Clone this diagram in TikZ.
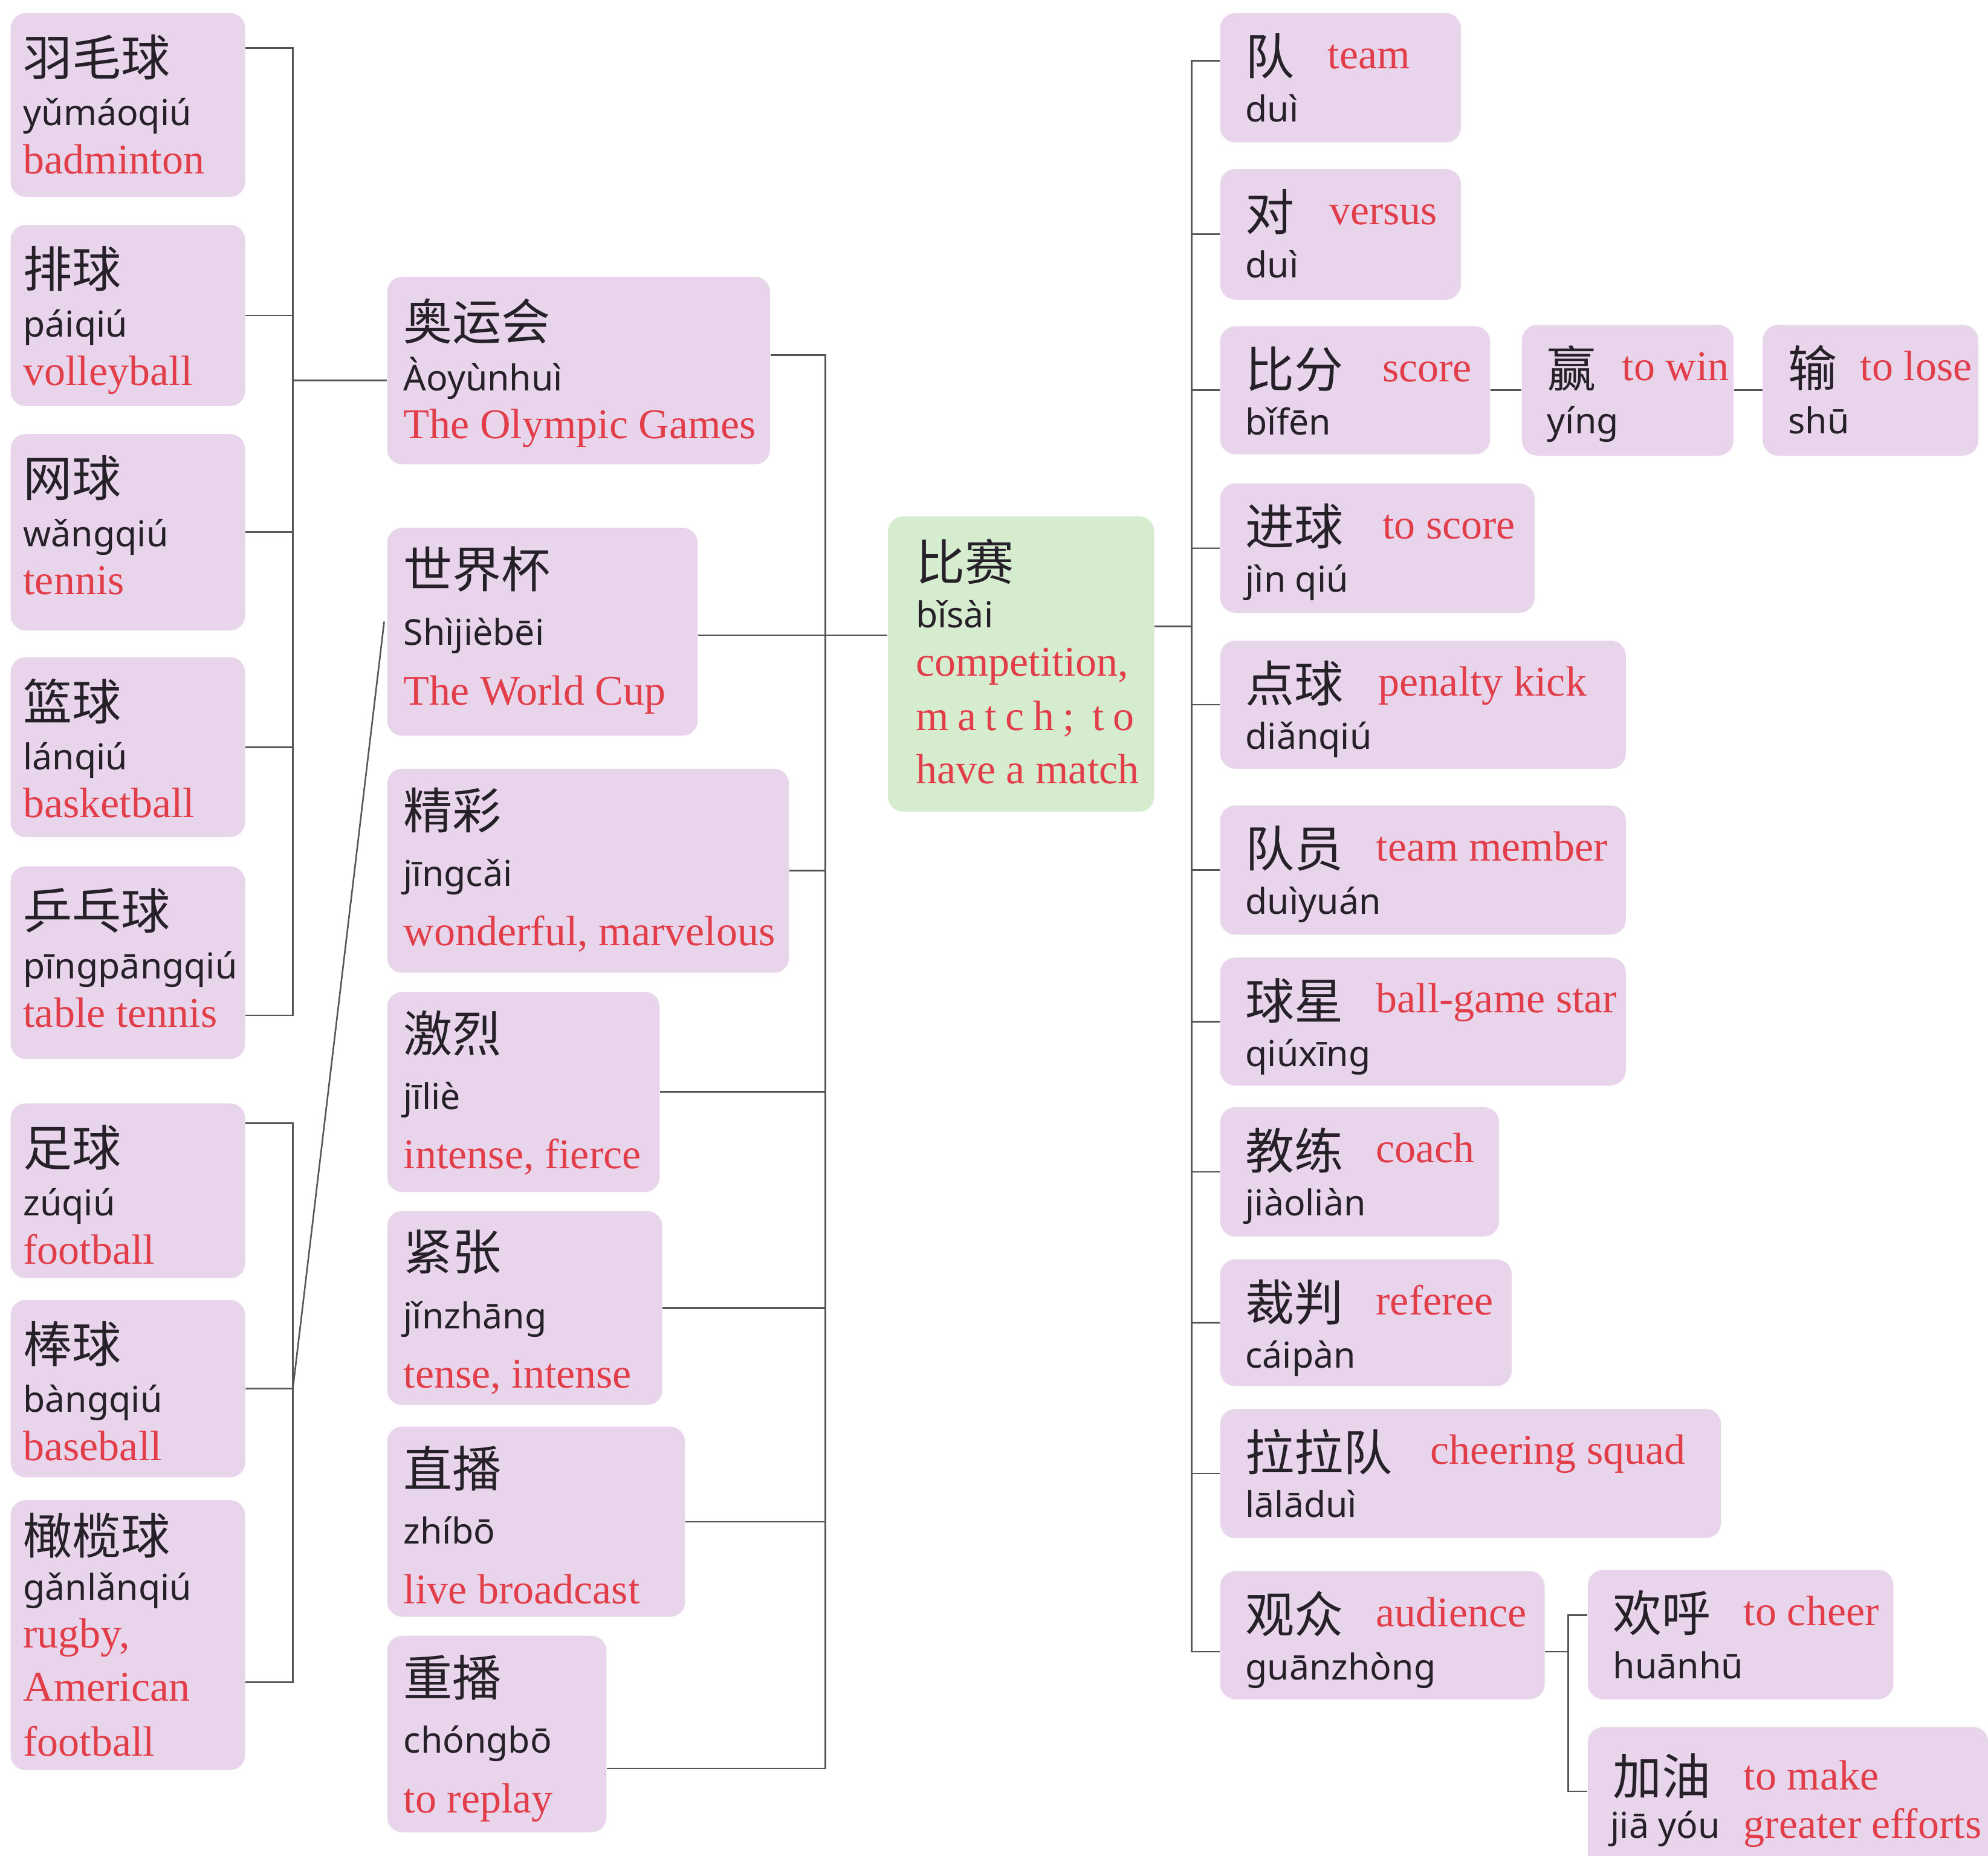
\documentclass[tikz,border=0pt]{standalone}
\usepackage{fontspec}
\newfontfamily\cjkfont{Noto Sans CJK SC}
\newfontfamily\pyfont{Noto Sans}
\newfontfamily\enfont{Liberation Serif}

\definecolor{cardfill}{RGB}{232,213,236}
\definecolor{greenfill}{RGB}{214,236,206}
\definecolor{enred}{RGB}{226,62,74}
\definecolor{inkc}{RGB}{38,32,40}
\definecolor{linec}{RGB}{85,85,85}

\newlength{\pxu}
\setlength{\pxu}{0.02cm}

\tikzset{
  card/.style={fill=cardfill, rounded corners=0.24cm, inner sep=0pt, anchor=north west},
  hz/.style={font={\cjkfont\fontsize{22pt}{26pt}\selectfont}, text=inkc, inner sep=0pt, anchor=north west},
  py/.style={font={\pyfont\fontsize{16pt}{19pt}\selectfont}, text=inkc, inner sep=0pt, anchor=base west},
  en/.style={font={\enfont\fontsize{19pt}{22pt}\selectfont}, text=enred, inner sep=0pt, anchor=base west},
  link/.style={draw=linec, line width=0.7pt},
}

\def\padx{10}\def\hzoff{17}\def\pyoff{89}\def\enoff{127}

% stacked card: name, x, y, width, height, hanzi, pinyin, english
\newcommand{\vcard}[8]{%
  \node[card, minimum width=#4*\pxu, minimum height=#5*\pxu] (#1) at (#2,#3) {};
  \node[hz] (#1-hz) at ([shift={(\padx,\hzoff)}]#1.north west) {#6};
  \node[py] (#1-py) at ([shift={(\padx,\pyoff)}]#1.north west) {#7};
  \node[en] (#1-en) at ([shift={(\padx,\enoff)}]#1.north west) {#8};
}

% row card: name, x, y, width, height, hanzi, pinyin, english, english x
\newcommand{\rcard}[9]{%
  \node[card, minimum width=#4*\pxu, minimum height=#5*\pxu] (#1) at (#2,#3) {};
  \node[hz] (#1-hz) at ([shift={(20,16)}]#1.north west) {#6};
  \node[en] (#1-en) at ([shift={(#9,44)}]#1.north west) {#8};
  \node[py] (#1-py) at ([shift={(20,86)}]#1.north west) {#7};
}

\begin{document}
\begin{tikzpicture}[x=0.02cm, y=-0.02cm]
        \useasboundingbox (0,0) rectangle (1568,1464);
        \clip (0,0) rectangle (1568,1464);
        \fill[white] (0,0) rectangle (1568,1464);

        % sports
        \vcard{yu}{8}{10}{185}{145}{羽毛球}{yǔmáoqiú}{badminton}
        \vcard{pai}{8}{177}{185}{143}{排球}{páiqiú}{volleyball}
        \vcard{wang}{8}{342}{185}{155}{网球}{wǎngqiú}{tennis}
        \vcard{lan}{8}{518}{185}{142}{篮球}{lánqiú}{basketball}
        \vcard{ping}{8}{683}{185}{152}{乒乓球}{pīngpāngqiú}{table tennis}
        \vcard{zu}{8}{870}{185}{138}{足球}{zúqiú}{football}
        \vcard{bang}{8}{1025}{185}{140}{棒球}{bàngqiú}{baseball}
        \node[card, minimum width=185*\pxu, minimum height=213*\pxu] (gan) at (8,1183) {};
        \node[hz] (gan-hz) at ([shift={(10,10)}]gan.north west) {橄榄球};
        \node[py] (gan-py) at ([shift={(10,79)}]gan.north west) {gǎnlǎnqiú};
        \node[en] (gan-en1) at ([shift={(10,117)}]gan.north west) {rugby,};
        \node[en] (gan-en2) at ([shift={(10,159)}]gan.north west) {American};
        \node[en] (gan-en3) at ([shift={(10,202)}]gan.north west) {football};

        % events and adjectives
        \def\padx{13}\def\hzoff{17}\def\pyoff{90}\def\enoff{128}
        \vcard{ao}{305}{218}{302}{148}{奥运会}{Àoyùnhuì}{The Olympic Games}
        \def\hzoff{15}\def\pyoff{93}\def\enoff{140}
        \vcard{sjb}{305}{416}{245}{164}{世界杯}{Shìjièbēi}{The World Cup}
        \vcard{jc}{305}{606}{317}{161}{精彩}{jīngcǎi}{wonderful, marvelous}
        \vcard{jl}{305}{782}{215}{158}{激烈}{jīliè}{intense, fierce}
        \vcard{jz}{305}{955}{217}{153}{紧张}{jǐnzhāng}{tense, intense}
        \vcard{zb}{305}{1125}{235}{150}{直播}{zhíbō}{live broadcast}
        \vcard{cb}{305}{1290}{173}{155}{重播}{chóngbō}{to replay}

        % centre
        \node[card, fill=greenfill, minimum width=210*\pxu, minimum height=233*\pxu] (bisai) at (700,407) {};
        \node[hz] (bisai-hz) at ([shift={(22,18)}]bisai.north west) {比赛};
        \node[py] (bisai-py) at ([shift={(22,88)}]bisai.north west) {bǐsài};
        \node[en] (bisai-en1) at ([shift={(22,126)}]bisai.north west) {competition,};
        \node[en] (bisai-en2) at ([shift={(22,169)}]bisai.north west) {\makebox[172\pxu][s]{m\hfill a\hfill t\hfill c\hfill h\hfill ;\hfill\hfill t\hfill o}};
        \node[en] (bisai-en3) at ([shift={(22,211)}]bisai.north west) {have a match};

        % match words
        \rcard{d1}{962}{10}{190}{102}{队}{duì}{team}{85}
        \rcard{d2}{962}{133}{190}{103}{对}{duì}{versus}{86}
        \rcard{bf}{962}{257}{213}{101}{比分}{bǐfēn}{score}{128}
        \rcard{ying}{1200}{256}{167}{103}{赢}{yíng}{to win}{79}
        \rcard{shu}{1390}{256}{170}{103}{输}{shū}{to lose}{77}
        \rcard{jq}{962}{381}{248}{102}{进球}{jìn qiú}{to score}{128}
        \rcard{dq}{962}{505}{320}{101}{点球}{diǎnqiú}{penalty kick}{125}
        \rcard{dy}{962}{635}{320}{102}{队员}{duìyuán}{team member}{123}
        \rcard{qx}{962}{755}{320}{101}{球星}{qiúxīng}{ball-game star}{123}
        \rcard{jlian}{962}{873}{220}{102}{教练}{jiàoliàn}{coach}{123}
        \rcard{cp}{962}{993}{230}{100}{裁判}{cáipàn}{referee}{123}
        \rcard{lld}{962}{1111}{395}{102}{拉拉队}{lālāduì}{cheering squad}{166}
        \rcard{gz}{962}{1239}{256}{101}{观众}{guānzhòng}{audience}{123}
        \rcard{hh}{1252}{1238}{241}{102}{欢呼}{huānhū}{to cheer}{123}
        \node[card, minimum width=316*\pxu, minimum height=130*\pxu] (jy) at (1252,1362) {};
        \node[hz] (jy-hz) at ([shift={(20,21)}]jy.north west) {加油};
        \node[en] (jy-en1) at ([shift={(123,50)}]jy.north west) {to make};
        \node[py] (jy-py) at ([shift={(18,88)}]jy.north west) {jiā yóu};
        \node[en] (jy-en2) at ([shift={(123,88)}]jy.north west) {greater efforts};

        % left brackets
        \coordinate (a1) at (231,38);
        \coordinate (a2) at (231,801);
        \coordinate (busA) at (231,300);
        \draw[link] (a1 -| yu.east) -- (a1) -- (a2) -- (a2 -| ping.east);
        \foreach \n in {pai,wang,lan}
            \draw[link] (\n.east) -- (\n.east -| a1);
        \draw[link] (busA) -- (busA -| ao.west);
        \coordinate (b1) at (231,886);
        \coordinate (b2) at (231,1327);
        \draw[link] (b1 -| zu.east) -- (b1) -- (b2) -- (b2 -| gan.east);
        \draw[link] (bang.east) -- (bang.east -| b1) -- ([shift={(-2,-8)}]sjb.west);

        % middle bracket
        \coordinate (m1) at (651,280);
        \coordinate (m2) at (651,1395);
        \coordinate (m3) at (651,501);
        \draw[link] (m1 -| ao.east) -- (m1) -- (m2) -- (m2 -| cb.east);
        \foreach \n in {jc,jl,jz,zb}
            \draw[link] (\n.east) -- (\n.east -| m1);
        \draw[link] (m3 -| sjb.east) -- (m3 -| bisai.west);

        % right bracket
        \coordinate (r0) at (940,494);
        \coordinate (r1) at (940,48);
        \coordinate (r2) at (940,1303);
        \draw[link] (r0 -| bisai.east) -- (r0);
        \draw[link] (r1 -| d1.west) -- (r1) -- (r2) -- (r2 -| gz.west);
        \foreach \n in {d2,bf,jq,dq,dy,qx,jlian,cp,lld}
            \draw[link] (\n.west) -- (\n.west -| r1);
        \draw[link] (bf.east) -- (bf.east -| ying.west);
        \draw[link] (ying.east) -- (ying.east -| shu.west);
        \coordinate (g1) at (1237,1274);
        \coordinate (g2) at (1237,1413);
        \draw[link] (r2 -| gz.east) -- (r2 -| g1);
        \draw[link] (g1 -| hh.west) -- (g1) -- (g2) -- (g2 -| jy.west);
\end{tikzpicture}
\end{document}
